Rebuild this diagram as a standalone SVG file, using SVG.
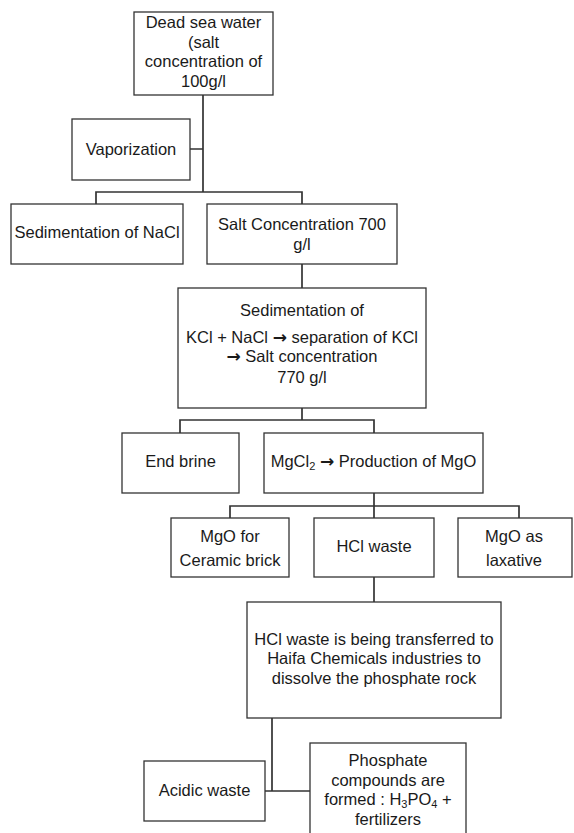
<svg xmlns="http://www.w3.org/2000/svg" width="574" height="833" viewBox="0 0 574 833">
<style>
.box{fill:#fff;stroke:#333;stroke-width:1.3}
.ln{fill:none;stroke:#333;stroke-width:1.7}
text{font-family:"Liberation Sans",Arial,sans-serif;font-size:16.5px;fill:#1a1a1a;text-anchor:middle}
.sub{font-size:11px}
.ar{font-family:"DejaVu Sans",sans-serif;font-size:17px;font-weight:bold}
</style>
<rect width="574" height="833" fill="#fff"/>
<g id="connectors">
<path class="ln" d="M203,95V192M190,149H203M96,204V192H302V204"/>
<path class="ln" d="M302,264V288"/>
<path class="ln" d="M302,408V420M180,433V420H374V433"/>
<path class="ln" d="M374,493V518M230,518V506H519V518"/>
<path class="ln" d="M374,577V602"/>
<path class="ln" d="M272,718V791M265,791H310"/>
</g>
<g id="n-deadsea"><rect class="box" x="134" y="12" width="139" height="83"/>
<text x="203.5" y="28">Dead sea water</text><text x="203.5" y="48">(salt</text><text x="203.5" y="67">concentration of</text><text x="203.5" y="87">100g/l</text></g>
<g id="n-vapor"><rect class="box" x="72" y="119" width="118" height="61"/>
<text x="131" y="155">Vaporization</text></g>
<g id="n-nacl"><rect class="box" x="11" y="204" width="172" height="60"/>
<text x="97" y="238">Sedimentation of NaCl</text></g>
<g id="n-salt700"><rect class="box" x="207" y="204" width="190" height="60"/>
<text x="302" y="230">Salt Concentration 700</text><text x="302" y="250">g/l</text></g>
<g id="n-kcl"><rect class="box" x="178" y="288" width="248" height="120"/>
<text x="302" y="316">Sedimentation of</text><text x="302" y="343">KCl + NaCl <tspan class="ar">→</tspan> separation of KCl</text><text x="302" y="362"><tspan class="ar">→</tspan> Salt concentration</text><text x="302" y="383">770 g/l</text></g>
<g id="n-endbrine"><rect class="box" x="122" y="433" width="117" height="60"/>
<text x="180.5" y="467">End brine</text></g>
<g id="n-mgcl2"><rect class="box" x="264" y="433" width="219" height="60"/>
<text x="373.5" y="467">MgCl<tspan class="sub" dy="3">2</tspan><tspan dy="-3"> </tspan><tspan class="ar">→</tspan> Production of MgO</text></g>
<g id="n-ceramic"><rect class="box" x="171" y="518" width="118" height="59"/>
<text x="230" y="542">MgO for</text><text x="230" y="566">Ceramic brick</text></g>
<g id="n-hclwaste"><rect class="box" x="314" y="518" width="120" height="59"/>
<text x="374" y="552">HCl waste</text></g>
<g id="n-laxative"><rect class="box" x="458" y="518" width="114" height="59"/>
<text x="514" y="542">MgO as</text><text x="514" y="566">laxative</text></g>
<g id="n-transfer"><rect class="box" x="247" y="602" width="254" height="116"/>
<text x="374" y="645">HCl waste is being transferred to</text><text x="374" y="664">Haifa Chemicals industries to</text><text x="374" y="684">dissolve the phosphate rock</text></g>
<g id="n-acidic"><rect class="box" x="144" y="761" width="121" height="60"/>
<text x="204.5" y="796">Acidic waste</text></g>
<g id="n-phosphate"><rect class="box" x="310" y="743" width="156" height="100"/>
<text x="388" y="766">Phosphate</text><text x="388" y="786">compounds are</text><text x="388" y="805">formed : H<tspan class="sub" dy="3">3</tspan><tspan dy="-3">PO</tspan><tspan class="sub" dy="3">4</tspan><tspan dy="-3"> +</tspan></text><text x="388" y="825">fertilizers</text></g>
</svg>
